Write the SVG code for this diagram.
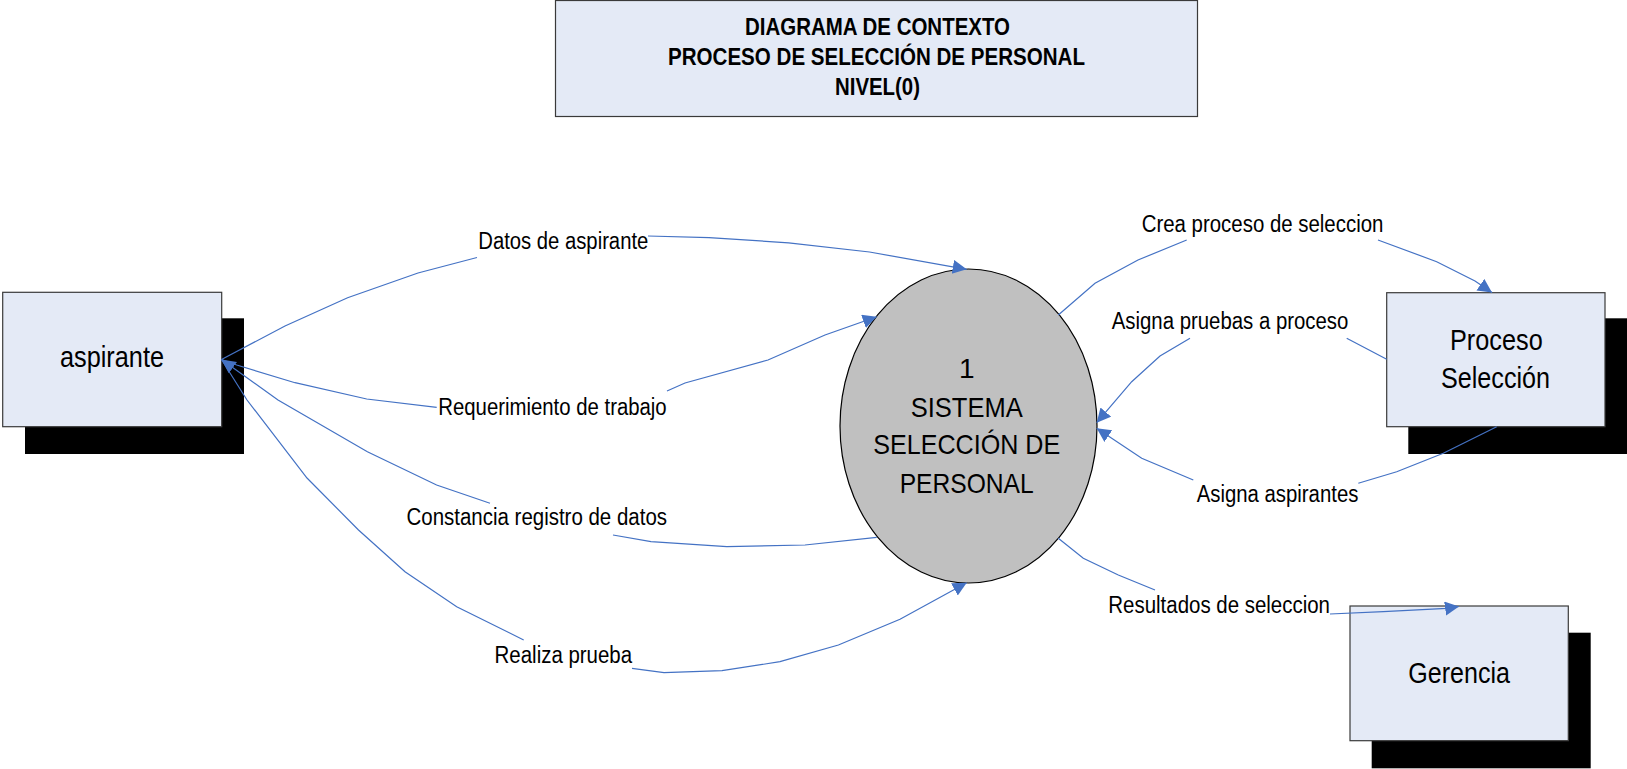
<svg xmlns="http://www.w3.org/2000/svg" width="1627" height="769" viewBox="0 0 1627 769">
<style>
.box{fill:#E4EAF6;stroke:#3a3a3a;stroke-width:1.2}
.shadow{fill:#000}
.title{font-family:"Liberation Sans",Arial,sans-serif;font-size:23px;font-weight:bold;fill:#000}
.node{font-family:"Liberation Sans",Arial,sans-serif;font-size:29px;fill:#000}
.proc{font-family:"Liberation Sans",Arial,sans-serif;font-size:28px;fill:#000}
.lbl{font-family:"Liberation Sans",Arial,sans-serif;font-size:23px;fill:#000}
.conn{fill:none;stroke:#4472C4;stroke-width:1.2;marker-end:url(#arr)}
</style>
<defs>
<marker id="arr" markerUnits="userSpaceOnUse" markerWidth="16" markerHeight="16" refX="14" refY="7" orient="auto">
<path d="M0,0 L14,7 L0,14 z" fill="#4472C4"/>
</marker>
</defs>
<rect width="1627" height="769" fill="#fff"/>
<g id="title">
<rect x="555.5" y="0.5" width="642" height="116" class="box"/>
<text class="title" x="745" y="35" textLength="265" lengthAdjust="spacingAndGlyphs">DIAGRAMA DE CONTEXTO</text>
<text class="title" x="668" y="65" textLength="417" lengthAdjust="spacingAndGlyphs">PROCESO DE SELECCIÓN DE PERSONAL</text>
<text class="title" x="835" y="95" textLength="85" lengthAdjust="spacingAndGlyphs">NIVEL(0)</text>
</g>
<g id="aspirante">
<rect x="25" y="318.3" width="219" height="135.7" class="shadow"/>
<rect x="2.7" y="292.3" width="219" height="134.4" class="box"/>
<text class="node" x="60" y="367.3" textLength="104" lengthAdjust="spacingAndGlyphs">aspirante</text>
</g>
<g id="sistema">
<ellipse cx="968.5" cy="426" rx="128.5" ry="157" fill="#C0C0C0" stroke="#000" stroke-width="1.2"/>
<text class="proc" x="966.7" y="378" text-anchor="middle">1</text>
<text class="proc" x="966.7" y="416.7" text-anchor="middle" textLength="112" lengthAdjust="spacingAndGlyphs">SISTEMA</text>
<text class="proc" x="966.7" y="454" text-anchor="middle" textLength="187" lengthAdjust="spacingAndGlyphs">SELECCIÓN DE</text>
<text class="proc" x="966.7" y="492.7" text-anchor="middle" textLength="134" lengthAdjust="spacingAndGlyphs">PERSONAL</text>
</g>
<g id="proceso">
<rect x="1408.3" y="318.3" width="219" height="135.7" class="shadow"/>
<rect x="1386.7" y="292.7" width="218.3" height="134" class="box"/>
<text class="node" x="1450" y="350" textLength="92.7" lengthAdjust="spacingAndGlyphs">Proceso</text>
<text class="node" x="1441" y="387.7" textLength="109" lengthAdjust="spacingAndGlyphs">Selección</text>
</g>
<g id="gerencia">
<rect x="1371.7" y="632.7" width="219" height="135.6" class="shadow"/>
<rect x="1350" y="606" width="218.3" height="134.7" class="box"/>
<text class="node" x="1408.3" y="683.3" textLength="101.7" lengthAdjust="spacingAndGlyphs">Gerencia</text>
</g>
<g id="connectors">
<path class="conn" d="M221.5,359.5 L285,326 L347.6,297.8 L418,273 L477,257.5 M648,236 L709,237.6 L788.6,242.8 L869.5,252 L966.7,269.3"/>
<path class="conn" d="M221.5,359.5 L236.7,365 L295,382.7 L366.7,399 L436.7,407.3 M667,391 L685,383 L768,360 L825,335 L876.7,316.7"/>
<path class="conn" d="M876.7,537.3 L805,545 L726.8,546.7 L651,541.7 L613,535 M490,503.3 L436.6,485 L367.4,451.7 L278,400 L221.5,359.5"/>
<path class="conn" d="M221.5,359.5 L247,400 L307,478 L358.5,530 L405,571.7 L456.7,606.7 L523.7,640 M632,668.3 L664,672.7 L722,670.7 L780,661.7 L838.4,645 L900,619.3 L966.7,582.7"/>
<path class="conn" d="M1058.3,315 L1095,283.3 L1138,260 L1186.7,240 M1378,240 L1436.7,261.7 L1475,281 L1492,292.5"/>
<path class="conn" d="M1386.7,359.3 L1346.7,338.3 M1190,338.3 L1160,356 L1131.7,381.7 L1096.7,422.7"/>
<path class="conn" d="M1496.7,426.7 L1443.3,453.3 L1396.7,471.7 L1358.3,483.3 M1193.3,480 L1141.7,458.3 L1096.7,428.3"/>
<path class="conn" d="M1058.3,538.3 L1083.3,558.3 L1118.3,575 L1155,590 M1330,614 L1383.3,611.7 L1446.7,608.3 L1459,606.5"/>
<text class="lbl" x="478.3" y="249.3" textLength="170" lengthAdjust="spacingAndGlyphs">Datos de aspirante</text>
<text class="lbl" x="438.3" y="415" textLength="228.4" lengthAdjust="spacingAndGlyphs">Requerimiento de trabajo</text>
<text class="lbl" x="406.5" y="525" textLength="260.5" lengthAdjust="spacingAndGlyphs">Constancia registro de datos</text>
<text class="lbl" x="494.6" y="663.3" textLength="137.5" lengthAdjust="spacingAndGlyphs">Realiza prueba</text>
<text class="lbl" x="1141.7" y="231.7" textLength="241.7" lengthAdjust="spacingAndGlyphs">Crea proceso de seleccion</text>
<text class="lbl" x="1111.7" y="329.3" textLength="236.7" lengthAdjust="spacingAndGlyphs">Asigna pruebas a proceso</text>
<text class="lbl" x="1196.7" y="501.7" textLength="161.7" lengthAdjust="spacingAndGlyphs">Asigna aspirantes</text>
<text class="lbl" x="1108.3" y="612.7" textLength="221.7" lengthAdjust="spacingAndGlyphs">Resultados de seleccion</text>
</g>
</svg>
